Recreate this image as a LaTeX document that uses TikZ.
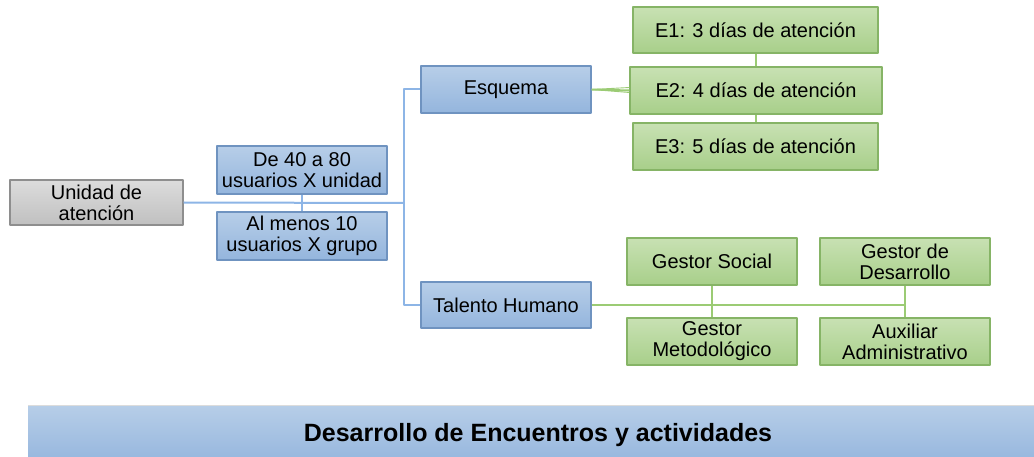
\documentclass[tikz,border=0pt]{standalone}
\usepackage{fontspec}
\setmainfont{Liberation Sans}
\usetikzlibrary{positioning}
\definecolor{bluetop}{HTML}{B7CEE8}
\definecolor{bluebot}{HTML}{94B5DD}
\definecolor{blueedge}{HTML}{6F93C0}
\definecolor{greentop}{HTML}{C8E1B3}
\definecolor{greenbot}{HTML}{A8CF8A}
\definecolor{greenedge}{HTML}{86B466}
\definecolor{graytop}{HTML}{DCDCDC}
\definecolor{graybot}{HTML}{C0C0C0}
\definecolor{grayedge}{HTML}{8E8E8E}
\definecolor{blueline}{HTML}{8DB5E6}
\definecolor{greenline}{HTML}{9BCB74}
\tikzset{
  box/.style={draw, line width=1.2pt, inner sep=0pt, align=center, minimum width=170pt, minimum height=47pt,
    font=\fontsize{20}{21}\selectfont},
  bluebox/.style={box, draw=blueedge, top color=bluetop, bottom color=bluebot},
  greenbox/.style={box, draw=greenedge, top color=greentop, bottom color=greenbot},
  graybox/.style={box, draw=grayedge, top color=graytop, bottom color=graybot},
  bluelink/.style={draw=blueline, line width=2pt},
  greenlink/.style={draw=greenline, line width=2pt}
}
\begin{document}
\begin{tikzpicture}[x=1pt, y=-1pt, line join=round]
  \useasboundingbox (0,0) rectangle (1034,457);
  % left part
  \node [graybox, minimum width=173pt, minimum height=45pt] (unidad) at (96.5,202.5) {Unidad de\\atención};
  \node [bluebox, minimum height=48pt] (usuunidad) at (302,170) {De 40 a 80\\usuarios X unidad};
  \node [bluebox, minimum height=48pt] (usugrupo) at (302,236) {Al menos 10\\usuarios X grupo};
  \node [bluebox] (esquema) at (506,89.5) {Esquema};
  \node [bluebox, minimum height=46pt] (talento) at (506,305) {Talento Humano};
  \coordinate (spine) at (404,203);
  % esquemas
  \node [greenbox, minimum width=245pt, minimum height=46pt] (eone) at (755.5,30) {E1: 3 días de atención};
  \node [greenbox, minimum width=252pt] (etwo) at (756,90.5) {E2: 4 días de atención};
  \node [greenbox, minimum width=245pt] (ethree) at (755.5,146.5) {E3: 5 días de atención};
  % talento humano
  \node [greenbox] (gsocial) at (712,261.5) {Gestor Social};
  \node [greenbox] (gdesarrollo) at (905,261.5) {Gestor de\\Desarrollo};
  \node [greenbox] (gmetodo) at (712,341.5) {Gestor\\Metodológico};
  \node [greenbox] (auxiliar) at (905,341.5) {Auxiliar\\Administrativo};
  \coordinate (tend) at (gdesarrollo.south |- talento.east);
  % bottom bar
  \fill [top color=bluetop, bottom color=bluebot] (28,405) rectangle (1040,465);
  \draw [graytop, line width=1pt] (28,405) -- (1034,405);
  \node [font=\fontsize{25}{27}\selectfont\bfseries] (encuentros) at (538,435) {Desarrollo de Encuentros y actividades};
  % connectors
  \draw [bluelink] (unidad.east) -- (spine);
  \draw [bluelink] (esquema.west) -| (spine) |- (talento.west);
  \draw [bluelink] (usuunidad.south) -- (usugrupo.north);
  \draw [greenlink] (esquema.east) -- (etwo.west);
  \draw [greenlink, line width=0.9pt] (esquema.east) -- ([yshift=3pt]etwo.west)
    (esquema.east) -- ([yshift=-2pt]etwo.west);
  \draw [greenlink] (eone.south) -- (eone.south |- etwo.north)
    (etwo.south -| ethree.south) -- (ethree.north);
  \draw [greenlink] (talento.east) -- (tend);
  \draw [greenlink] (gsocial.south) -- (gmetodo.north)
    (gdesarrollo.south) -- (auxiliar.north);
\end{tikzpicture}
\end{document}
